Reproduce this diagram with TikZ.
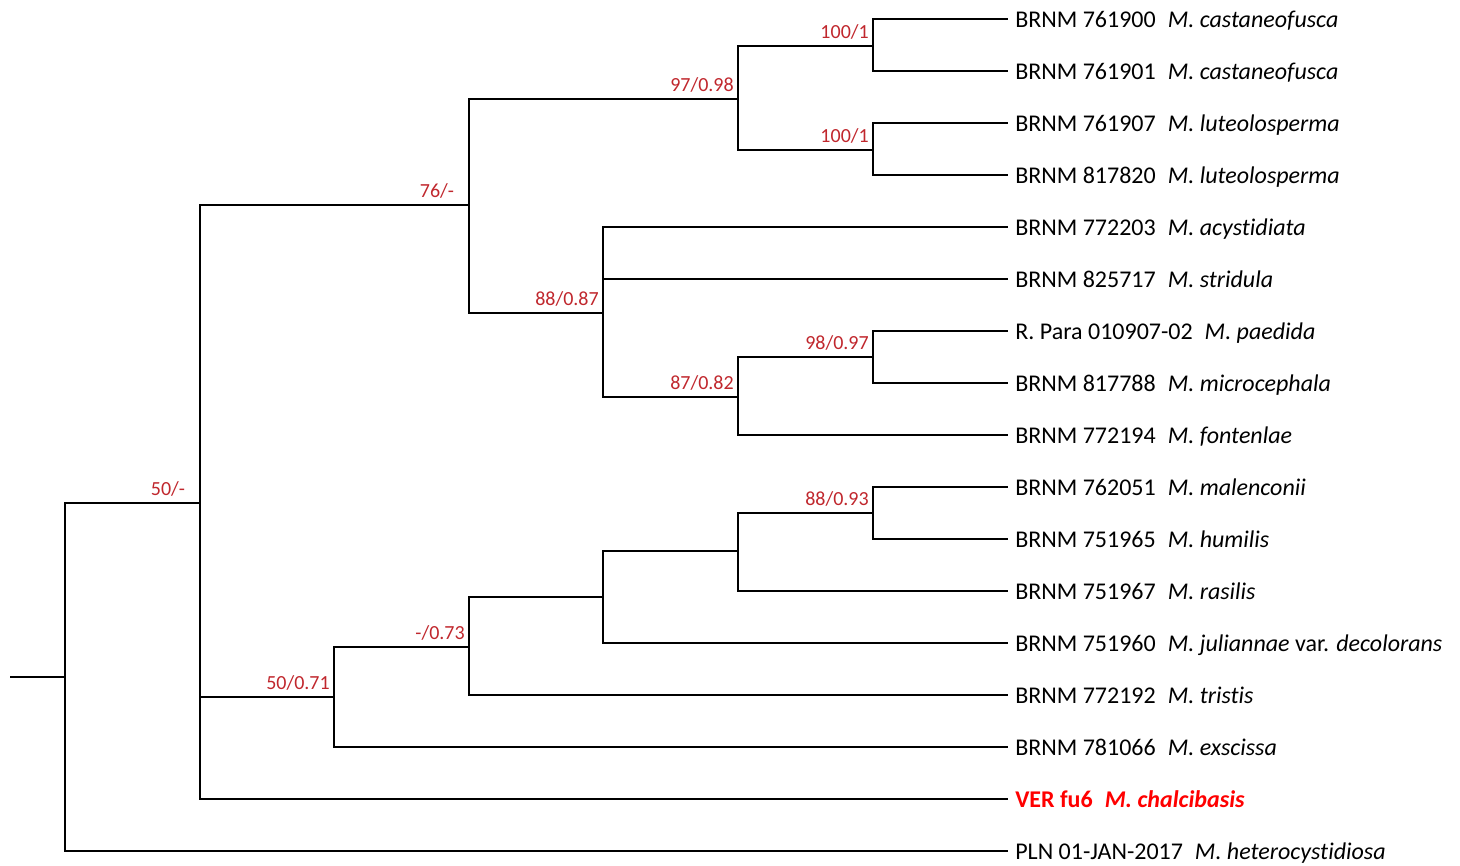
\documentclass[tikz,border=0pt]{standalone}
\usepackage{fontspec}
\setmainfont{Carlito}[Ligatures={NoCommon}]
\definecolor{bsred}{HTML}{C0272D}
\definecolor{hired}{HTML}{FF0000}
\newcommand\gapp{\hspace{0.5em}}
\begin{document}
\begin{tikzpicture}[x=0.75pt,y=-0.75pt,
  br/.style={line width=2.1pt, line join=miter},
  leaftext/.style={anchor=base west, inner sep=0pt, xshift=5.25pt, yshift=-6pt, font=\fontsize{18}{20}\selectfont},
  bs/.style={anchor=base east, inner sep=0pt, xshift=-3pt, yshift=5.4pt, text=bsred, font=\fontsize{15}{17}\selectfont},
  bsd/.style={bs, xshift=-8pt}]
\useasboundingbox (0,0) rectangle (1460,865);
% internal nodes
\coordinate (s) at (10,677);
\coordinate (r) at (65,677);
\coordinate (n1) at (200,503);
\coordinate (n2) at (469,205);
\coordinate (n3) at (738,99);
\coordinate (n4) at (873,46);
\coordinate (n5) at (873,150);
\coordinate (n6) at (603,313);
\coordinate (n7) at (738,397);
\coordinate (n8) at (873,357);
\coordinate (n9) at (334,697);
\coordinate (n10) at (469,647);
\coordinate (n11) at (603,597);
\coordinate (n12) at (738,551);
\coordinate (n13) at (873,513);
% leaves
\foreach \i/\y in {1/19,2/71,3/123,4/175,5/227,6/279,7/331,8/383,9/435,10/487,11/539,12/591,13/643,14/695,15/747,16/799,17/851}
  \coordinate (l\i) at (1008,\y);
\node[leaftext] (t1) at (l1) {BRNM 761900\gapp\textit{M. castaneofusca}};
\node[leaftext] (t2) at (l2) {BRNM 761901\gapp\textit{M. castaneofusca}};
\node[leaftext] (t3) at (l3) {BRNM 761907\gapp\textit{M. luteolosperma}};
\node[leaftext] (t4) at (l4) {BRNM 817820\gapp\textit{M. luteolosperma}};
\node[leaftext] (t5) at (l5) {BRNM 772203\gapp\textit{M. acystidiata}};
\node[leaftext] (t6) at (l6) {BRNM 825717\gapp\textit{M. stridula}};
\node[leaftext] (t7) at (l7) {R. Para 010907-02\gapp\textit{M. paedida}};
\node[leaftext] (t8) at (l8) {BRNM 817788\gapp\textit{M. microcephala}};
\node[leaftext] (t9) at (l9) {BRNM 772194\gapp\textit{M. fontenlae}};
\node[leaftext] (t10) at (l10) {BRNM 762051\gapp\textit{M. malenconii}};
\node[leaftext] (t11) at (l11) {BRNM 751965\gapp\textit{M. humilis}};
\node[leaftext] (t12) at (l12) {BRNM 751967\gapp\textit{M. rasilis}};
\node[leaftext] (t13) at (l13) {BRNM 751960\gapp\textit{M. juliannae} var. \textit{decolorans}};
\node[leaftext] (t14) at (l14) {BRNM 772192\gapp\textit{M. tristis}};
\node[leaftext] (t15) at (l15) {BRNM 781066\gapp\textit{M. exscissa}};
\node[leaftext, text=hired, font=\fontsize{18}{20}\selectfont\bfseries] (t16) at (l16) {VER fu6\gapp\textit{M. chalcibasis}};
\node[leaftext] (t17) at (l17) {PLN 01-JAN-2017\gapp\textit{M. heterocystidiosa}};
% branches
\draw[br] (s) -- (r);
\draw[br] (r) |- (n1);
\draw[br] (r) |- (l17);
\draw[br] (n1) |- (n2);
\draw[br] (n1) |- (n9);
\draw[br] (n1) |- (l16);
\draw[br] (n2) |- (n3);
\draw[br] (n2) |- (n6);
\draw[br] (n3) |- (n4);
\draw[br] (n3) |- (n5);
\draw[br] (n4) |- (l1);
\draw[br] (n4) |- (l2);
\draw[br] (n5) |- (l3);
\draw[br] (n5) |- (l4);
\draw[br] (n6) |- (l5);
\draw[br] (n6) |- (l6);
\draw[br] (n6) |- (n7);
\draw[br] (n7) |- (n8);
\draw[br] (n7) |- (l9);
\draw[br] (n8) |- (l7);
\draw[br] (n8) |- (l8);
\draw[br] (n9) |- (n10);
\draw[br] (n9) |- (l15);
\draw[br] (n10) |- (n11);
\draw[br] (n10) |- (l14);
\draw[br] (n11) |- (n12);
\draw[br] (n11) |- (l13);
\draw[br] (n12) |- (n13);
\draw[br] (n12) |- (l12);
\draw[br] (n13) |- (l10);
\draw[br] (n13) |- (l11);
% support values
\node[bsd] (b1) at (n1) {50/-};
\node[bsd] (b2) at (n2) {76/-};
\node[bs] (b3) at (n3) {97/0.98};
\node[bs] (b4) at (n4) {100/1};
\node[bs] (b5) at (n5) {100/1};
\node[bs] (b6) at (n6) {88/0.87};
\node[bs] (b7) at (n7) {87/0.82};
\node[bs] (b8) at (n8) {98/0.97};
\node[bs] (b9) at (n9) {50/0.71};
\node[bs] (b10) at (n10) {-/0.73};
\node[bs] (b13) at (n13) {88/0.93};
\end{tikzpicture}
\end{document}
